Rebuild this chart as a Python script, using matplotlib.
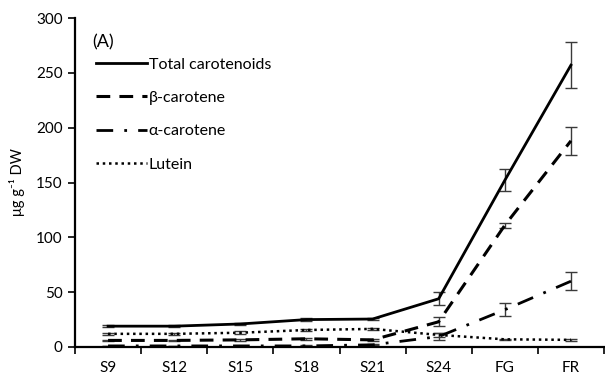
import matplotlib
matplotlib.use("Agg")
import matplotlib.pyplot as plt
import numpy as np

plt.rcParams['font.family'] = ['Lato', 'DejaVu Sans']

stages = ["S9", "S12", "S15", "S18", "S21", "S24", "FG", "FR"]

total = [19, 19, 21, 25, 25.5, 44, 152, 257]
total_err = [1, 1, 1, 1.5, 1, 6, 10, 21]

beta = [6, 6, 6.5, 7.5, 6.5, 23, 111, 188]
beta_err = [0.8, 0.8, 0.8, 1, 1, 4, 2.5, 13]

alpha = [1, 1, 1, 1, 2, 9.5, 34, 60]
alpha_err = [0.3, 0.3, 0.3, 0.5, 0.5, 3, 6, 8]

lutein = [12, 12, 13, 15.5, 16.5, 11, 7, 6.5]
lutein_err = [1, 0.8, 1.5, 1, 1, 2, 0.5, 1]

series = [
    ("Total carotenoids", total, total_err, dict(linestyle="-", linewidth=2.0)),
    ("β-carotene", beta, beta_err, dict(linestyle=(0, (4.5, 3)), linewidth=2.2)),
    ("α-carotene", alpha, alpha_err, dict(linestyle=(0, (6, 4, 1, 4)), linewidth=2.0)),
    ("Lutein", lutein, lutein_err, dict(linestyle=(0, (1, 1.5)), linewidth=1.8)),
]

fig = plt.figure(figsize=(6.05, 3.85), dpi=100)
ax = fig.add_axes([75 / 605, 1 - 347 / 385, 529 / 605, 329 / 385])

x = np.arange(len(stages))
for label, vals, errs, style in series:
    ax.errorbar(x, vals, yerr=errs, fmt="none", ecolor="#3a3a3a",
                elinewidth=1.0, capsize=4, capthick=1.0, zorder=2)
    ax.plot(x, vals, color="black", label=label, zorder=3, **style)

ax.set_xlim(-0.5, len(stages) - 0.5)
ax.set_ylim(0, 300)
ax.set_yticks(np.arange(0, 301, 50))
ax.set_xticks(x)
ax.set_xticklabels(stages)
ax.set_xticks(np.arange(-0.5, len(stages), 1), minor=True)
ax.tick_params(axis="x", which="major", length=0, pad=10, labelsize=11)
ax.tick_params(axis="x", which="minor", length=5, width=1.2, direction="out")
ax.tick_params(axis="y", length=5, width=1.2, labelsize=11, pad=4)

for side in ("top", "right"):
    ax.spines[side].set_visible(False)
for side in ("left", "bottom"):
    ax.spines[side].set_linewidth(1.6)

ax.set_ylabel("μg g⁻¹ DW", fontsize=10.5, labelpad=8)

ax.text(0.032, 0.91, "(A)", transform=ax.transAxes, fontsize=13)
leg = ax.legend(loc="upper left", bbox_to_anchor=(0.04, 0.88), frameon=False,
                handlelength=3.2, handletextpad=0.1, labelspacing=1.2,
                fontsize=11.5, borderaxespad=0, borderpad=0)

fig.savefig("out.png", dpi=100)
